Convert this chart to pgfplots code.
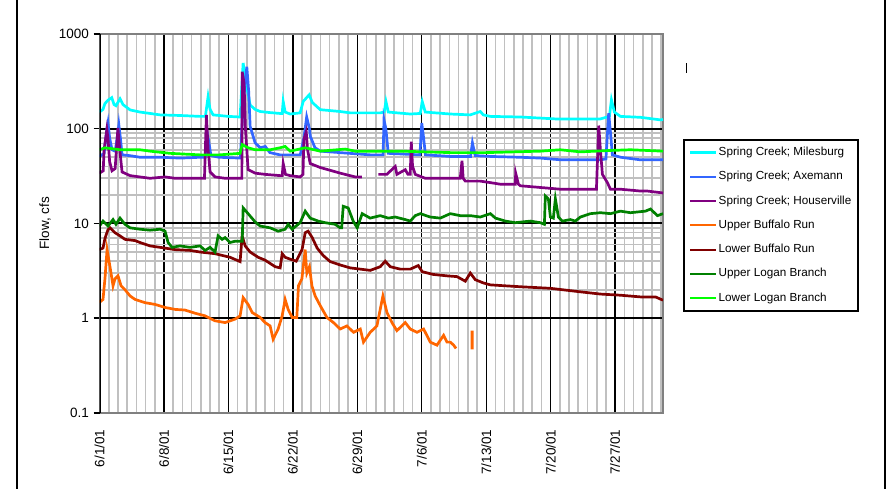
\documentclass[border=0pt]{standalone}
\usepackage{pgfplots}
\pgfplotsset{compat=1.18}
\usepackage{fontspec}
\setmainfont{Liberation Sans}
\definecolor{cMil}{RGB}{0,255,255}
\definecolor{cAxe}{RGB}{51,102,255}
\definecolor{cHou}{RGB}{128,0,128}
\definecolor{cUBR}{RGB}{255,102,0}
\definecolor{cLBR}{RGB}{128,0,0}
\definecolor{cULB}{RGB}{0,128,0}
\definecolor{cLLB}{RGB}{0,255,0}
\definecolor{gridgray}{RGB}{192,192,192}
\definecolor{axgray}{RGB}{128,128,128}
\newcommand{\tickfont}{\fontsize{13.5}{16}\selectfont}
\begin{document}
\tickfont
\begin{tikzpicture}[font=\tickfont]
\useasboundingbox (0pt,0pt) rectangle (890pt,489pt);
\fill[white] (0pt,0pt) rectangle (890pt,489pt);
\draw[black,line width=1.5pt] (17pt,-2pt) -- (17pt,491pt);
\draw[black,line width=1.5pt] (885pt,-2pt) -- (885pt,491pt);
\draw[black,line width=0.8pt] (686pt,416pt) -- (686pt,426pt);
\begin{axis}[
  at={(99.5pt,76pt)}, anchor=south west,
  width=563.5pt, height=379pt, scale only axis,
  ymode=log, ymin=0.1, ymax=1000,
  xmin=0, xmax=61.2,
  xtick={0,7,...,63},
  xticklabels={6/1/01,6/8/01,6/15/01,6/22/01,6/29/01,7/6/01,7/13/01,7/20/01,7/27/01,8/3/01},
  minor x tick num=6,
  ytick={1,10,100},
  yticklabels={1,10,100},
  extra y ticks={0.1,1000},
  extra y tick labels={0.1,1000},
  extra y tick style={grid=none},
  xtick pos=bottom, ytick pos=left,
  tick align=outside,
  major tick length=6pt,
  minor tick length=0pt,
  xtick style={draw=none},
  ytick style={black,line width=1.5pt},
  grid=both,
  major x grid style={black,line width=1.3pt},
  major y grid style={black,line width=2pt},
  minor grid style={gridgray,line width=1.6pt},
  axis line style={axgray,line width=2pt},
  xticklabel style={rotate=90,anchor=east,font=\tickfont},
  yticklabel style={font=\tickfont},
  xticklabel shift=6pt,
  ylabel={Flow, cfs},
  ylabel style={at={(axis description cs:-0.078,0.5)},anchor=south,rotate=0,font=\tickfont},
  unbounded coords=jump,
  every axis plot/.append style={line width=2.7pt},
  legend style={at={(1.0355,0.723)},anchor=north west,draw=black,line width=2pt,
    inner sep=5pt,row sep=9.3pt,
    nodes={text height=9pt,text depth=3pt,inner sep=1.5pt},
    font=\fontsize{11.7}{13}\selectfont},
  legend cell align=left,
  legend image code/.code={\draw[#1,line width=2.2pt] (2pt,0pt) -- (28pt,0pt);},
]
% Spring Creek; Milesburg
\addplot[cMil] coordinates {
(0,150)(0.38,160)(0.6,185)(0.92,200)(1.33,213)(1.58,180)(1.79,175)(2.23,207)(2.55,180)
(3.32,158)(4.4,150)(5.5,145)(6.58,140)(8.75,138)(10.92,135)(11.5,135)(11.79,217)(12.01,160)
(12.34,140)(14,135)(15.27,133)(15.6,495)(15.92,300)(16.36,178)(16.9,160)(17.45,152)(18.53,148)
(19.62,145)(19.84,145)(19.95,194)(20.16,150)(20.71,143)(21.79,147)(22.12,194)(22.77,228)
(23.1,190)(23.97,159)(26.14,152)(27.23,147)(30.49,147)(30.92,150)(31.11,194)(31.36,150)
(33.75,143)(34.84,145)(35.05,194)(35.38,150)(38.1,143)(40.27,140)(41.36,152)(41.68,140)
(42.45,135)(45.71,133)(49.51,127)(54.4,127)(55.38,135)(55.6,202)(55.92,150)(56.58,135)
(58.75,132)(60.92,124)(61.2,125)};
\addlegendentry{Spring Creek; Milesburg}
% Spring Creek; Axemann
\addplot[cAxe] coordinates {
(0,51)(0.5,55)(0.8,100)(0.92,116)(1.1,80)(1.36,60)(1.7,58)(2.0,90)(2.1,110)(2.3,75)(2.45,53)
(3.3,52)(4.4,50)(6.6,50)(8.8,49)(10.9,50)(11.5,50)(11.7,90)(11.9,70)(12.1,52)(13,50)(15.3,49)
(15.5,120)(15.8,300)(16.0,450)(16.2,250)(16.36,106)(16.9,71)(17.45,63)(18.0,65)(18.5,56)
(19.6,53)(20.7,53)(21.8,53)(22.2,80)(22.5,133)(22.8,100)(22.9,83)(23.4,63)(24.0,58)(26.1,56)
(29.4,53)(30.8,53)(30.9,124)(31.1,100)(31.36,55)(34.8,53)(35.0,115)(35.2,80)(35.4,53)
(38.1,51)(40.3,51)(40.5,71)(40.8,52)(42.5,51)(45.7,50)(47.9,49)(50.1,47)(54.4,47)(55.0,48)
(55.2,100)(55.3,146)(55.5,90)(55.7,53)(56.6,50)(58.75,47)(61.2,47)};
\addlegendentry{Spring Creek; Axemann}
% Spring Creek; Houserville
\addplot[cHou] coordinates {
(0,34)(0.4,36)(0.5,60)(0.8,98)(0.92,80)(1.1,45)(1.36,36)(1.7,38)(2.0,102)(2.2,60)(2.45,35)
(3.32,32)(5.49,30)(7.12,31)(8.21,30)(10.92,30)(11.4,30)(11.61,140)(11.8,60)(12.01,35)
(12.55,31)(13.64,30)(15.27,30)(15.46,30)(15.5,400)(15.7,300)(15.85,100)(16.14,37)(16.9,34)
(17.99,33)(19.62,32)(19.84,32)(19.95,43)(20.2,33)(20.71,32)(21.79,31)(22.1,33)(22.2,77)
(22.45,93)(22.6,60)(22.88,43)(23.97,39)(26.14,34)(27.77,31)(28.5,31)(29,nan)
(30.3,33)(31.2,33)(32.12,40)(32.3,33)(33.21,37)(33.5,33)(33.75,33)(33.86,73)(34.0,40)
(34.29,33)(35.38,30)(38.1,30)(39.18,30)(39.37,46)(39.5,30)(39.73,28)(41.36,28)(42.45,27)
(43.5,26)(45.16,26)(45.2,34)(45.5,26)(45.71,25)(47.88,24)(50.05,23)(53.97,23)(54.22,108)
(54.4,60)(54.62,33)(55.16,27)(55.49,23)(56.58,23)(58.75,22)(59.5,22)(61.2,21)};
\addlegendentry{Spring Creek; Houserville}
% Upper Buffalo Run
\addplot[cUBR] coordinates {
(0,1.47)(0.38,1.58)(0.6,2.66)(0.82,5.3)(1.14,3.5)(1.47,2.2)(1.68,2.6)(2.01,2.8)(2.34,2.2)
(2.77,2.0)(3.32,1.72)(3.86,1.58)(4.95,1.46)(6.03,1.40)(7.12,1.30)(8.21,1.24)(9.29,1.22)
(10.38,1.13)(11.47,1.06)(12.55,0.94)(13.64,0.90)(14.73,0.98)(15.27,1.06)(15.6,1.65)
(16.14,1.40)(16.58,1.15)(17.45,1.02)(17.99,0.90)(18.53,0.83)(18.86,0.60)(19.40,0.77)
(19.84,1.06)(20.16,1.58)(20.49,1.24)(20.92,1.02)(21.43,1.02)(21.61,2.2)(21.98,2.6)
(22.34,5.3)(22.52,3.0)(22.8,3.5)(23.07,2.2)(23.42,1.72)(23.97,1.36)(24.7,1.02)(25.41,0.90)
(26.14,0.77)(26.87,0.83)(27.59,0.71)(28.32,0.77)(28.67,0.56)(29.4,0.71)(30.13,0.83)
(30.78,1.72)(31.22,1.15)(31.76,0.90)(32.3,0.74)(33.21,0.90)(33.75,0.77)(34.48,0.71)
(35.2,0.77)(35.92,0.56)(36.65,0.52)(37.37,0.66)(37.74,0.56)(38.1,0.56)(38.46,0.52)(38.72,0.48)};
\addlegendentry{Upper Buffalo Run}
\addplot[cUBR,forget plot,line width=3pt] coordinates {(40.46,0.74)(40.47,0.47)};
% Lower Buffalo Run
\addplot[cLBR] coordinates {
(0,5.3)(0.38,5.5)(0.6,7.0)(0.92,8.6)(1.14,9.0)(1.68,8.0)(2.23,7.4)(2.77,6.8)(3.86,6.6)
(4.4,6.3)(5.49,5.8)(6.58,5.6)(8.21,5.3)(9.84,5.2)(10.92,5.0)(12.55,4.8)(14.18,4.4)(15.27,3.96)
(15.49,7.4)(15.82,5.8)(16.36,5.0)(17.23,4.4)(17.99,4.1)(19.08,3.5)(19.62,3.4)(19.84,4.8)
(20.16,4.4)(20.71,4.2)(21.36,4.0)(22.0,5.3)(22.34,8.0)(22.66,8.3)(23.1,7.1)(23.64,5.5)
(24.29,4.6)(25.05,3.96)(26.14,3.65)(27.23,3.4)(28.32,3.3)(29.4,3.2)(30.49,3.5)(31.03,4.0)
(31.58,3.5)(32.66,3.3)(33.75,3.3)(34.62,3.6)(35.05,3.1)(36.25,2.9)(37.77,2.8)(38.83,2.75)
(39.73,2.46)(40.27,3.0)(40.82,2.55)(41.68,2.36)(42.45,2.25)(45.71,2.15)(48.97,2.07)
(52.23,1.9)(54.4,1.8)(56.58,1.75)(58.75,1.68)(60.38,1.68)(61.2,1.55)};
\addlegendentry{Lower Buffalo Run}
% Upper Logan Branch
\addplot[cULB] coordinates {
(0,9.4)(0.38,10.6)(0.92,9.4)(1.47,11.0)(1.79,9.8)(2.23,11.4)(2.77,9.8)(3.32,9.0)(4.4,8.7)
(5.49,8.5)(6.58,8.7)(7.12,8.3)(7.45,6.3)(7.88,5.6)(8.75,5.8)(9.84,5.6)(10.92,5.8)(11.47,5.2)
(12.01,5.6)(12.55,5.0)(12.88,7.4)(13.32,6.8)(13.64,7.1)(14.18,6.3)(14.73,6.5)(15.5,6.5)
(15.6,14.6)(16.14,12.7)(16.9,10.4)(17.45,9.4)(18.53,9.0)(19.4,8.3)(20.16,8.7)(20.49,9.8)
(20.92,8.7)(21.79,10.2)(22.34,13.5)(22.88,11.4)(23.75,10.6)(24.51,10.2)(25.6,9.8)(26.14,9.0)
(26.3,9.0)(26.47,15.2)(27.01,14.6)(27.55,10.6)(27.99,9.0)(28.53,12.7)(29.4,11.4)(30.49,12.1)
(31.36,11.4)(32.12,11.7)(33.21,11.0)(33.75,10.6)(34.29,12.1)(34.84,12.7)(35.92,11.7)
(37.01,11.4)(38.1,12.7)(39.18,12.1)(40.27,12.1)(41.36,11.7)(42.45,12.7)(43.0,11.4)
(44.08,10.6)(45.16,10.2)(46.79,10.6)(47.88,10.2)(48.32,9.8)(48.42,19.5)(48.75,18.2)
(48.97,11.7)(49.29,11.4)(49.51,18.2)(49.84,11.7)(50.27,10.6)(51.14,11.0)(51.68,10.6)
(52.23,11.7)(53.32,12.7)(54.4,13.0)(55.49,12.7)(56.58,13.5)(57.66,13.0)(59.29,13.5)
(59.84,14.2)(60.6,12.1)(61.2,12.7)};
\addlegendentry{Upper Logan Branch}
% Lower Logan Branch
\addplot[cLLB] coordinates {
(0,60)(0.6,63)(2.23,60)(4.4,60)(5.49,58)(7.66,55)(10.92,53)(13.0,53)(15.27,55)(15.49,68)
(16.14,63)(16.9,60)(18.53,60)(19.62,63)(20.16,65)(20.71,58)(22.34,63)(23.97,58)(26.68,61)
(27.77,58)(32.66,58)(38.1,56)(42.0,56)(47.88,58)(50.05,60)(52.23,57)(55.5,59)(57.66,60)
(61.2,58)};
\addlegendentry{Lower Logan Branch}
\draw[black,line width=2.5pt] (rel axis cs:0,0) -- (rel axis cs:0,1);
\end{axis}
\end{tikzpicture}
\end{document}
